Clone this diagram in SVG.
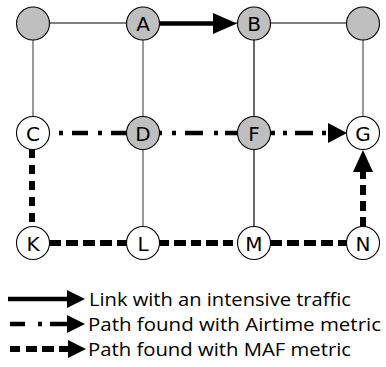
<svg xmlns="http://www.w3.org/2000/svg" width="386" height="367" viewBox="0 0 386 367">
<style>
.thin{stroke:#555;stroke-width:1.2;fill:none}
.thinb{stroke:#000;stroke-width:1.2;fill:none}
.nd circle{stroke:#000;stroke-width:1.1}
.g{fill:#bfbfbf}
.w{fill:#fff}
.nd text{font-family:"DejaVu Sans",sans-serif;font-size:20px;text-anchor:middle;fill:#000}
.solid{stroke:#000;stroke-width:4.5;fill:none}
.dd{stroke:#000;stroke-width:4.5;fill:none}
.maf{stroke:#000;stroke-width:6;fill:none}
.ah{fill:#000}
.lg{font-family:"Open Sans",sans-serif;font-size:18.5px;fill:#000}
</style>
<rect width="386" height="367" fill="#fff"/>
<g id="edges">
<line class="thinb" x1="33" y1="23" x2="363" y2="23"/>
<line class="thin" x1="33" y1="23" x2="33" y2="133"/>
<line class="thin" x1="143" y1="23" x2="143" y2="243"/>
<line class="thinb" x1="254" y1="23" x2="254" y2="243"/>
<line class="thin" x1="363" y1="23" x2="363" y2="133" stroke="#888"/>
</g>
<g id="connectors">
<line class="solid" x1="159" y1="23.5" x2="215" y2="23.5"/>
<polygon class="ah" points="213,13 237,23.5 213,34"/>
<line class="dd" x1="59" y1="133" x2="127" y2="133" stroke-dasharray="4 9 16 10"/>
<line class="dd" x1="159" y1="133" x2="238" y2="133" stroke-dasharray="3 10 4 9 18 11 4 7 20"/>
<line class="dd" x1="270" y1="133" x2="330" y2="133" stroke-dasharray="5 8 4 8 18 9 4 4 10"/>
<polygon class="ah" points="328,123 347,133 328,143"/>
<line class="maf" x1="32" y1="149" x2="32" y2="227" stroke-dasharray="9 7"/>
<line class="maf" x1="49" y1="243" x2="127" y2="243" stroke-dasharray="12 5"/>
<line class="maf" x1="159" y1="243" x2="238" y2="243" stroke-dasharray="10 5 12 5"/>
<line class="maf" x1="270" y1="243" x2="347" y2="243" stroke-dasharray="12 5"/>
<line class="maf" x1="363" y1="227" x2="363" y2="170" stroke-dasharray="10 6"/>
<polygon class="ah" points="353,172 363,150 373,172"/>
</g>
<g id="n_tl" class="nd"><circle class="g" cx="33" cy="23.5" r="16.5"/></g>
<g id="n_A" class="nd"><circle class="g" cx="143" cy="23.5" r="16.5"/><text x="143" y="31">A</text></g>
<g id="n_B" class="nd"><circle class="g" cx="254" cy="23.5" r="16.5"/><text x="254" y="31">B</text></g>
<g id="n_tr" class="nd"><circle class="g" cx="363" cy="23.5" r="16.5"/></g>
<g id="n_C" class="nd"><circle class="w" cx="33" cy="133" r="16.5"/><text x="33" y="140.5">C</text></g>
<g id="n_D" class="nd"><circle class="g" cx="143" cy="133" r="16.5"/><text x="143" y="140.5">D</text></g>
<g id="n_F" class="nd"><circle class="g" cx="254" cy="133" r="16.5"/><text x="254" y="140.5">F</text></g>
<g id="n_G" class="nd"><circle class="w" cx="363" cy="133" r="16.5"/><text x="363" y="140.5">G</text></g>
<g id="n_K" class="nd"><circle class="w" cx="33" cy="243" r="16.5"/><text x="33" y="250.5">K</text></g>
<g id="n_L" class="nd"><circle class="w" cx="143" cy="243" r="16.5"/><text x="143" y="250.5">L</text></g>
<g id="n_M" class="nd"><circle class="w" cx="254" cy="243" r="16.5"/><text x="254" y="250.5">M</text></g>
<g id="n_N" class="nd"><circle class="w" cx="363" cy="243" r="16.5"/><text x="363" y="250.5">N</text></g>
<g id="legend">
<line class="solid" x1="8" y1="299" x2="69" y2="299" stroke-width="3.5"/>
<polygon class="ah" points="67,290 85,299 67,308"/>
<text class="lg" x="89" y="306" textLength="262" lengthAdjust="spacingAndGlyphs">Link with an intensive traffic</text>
<line class="dd" x1="10" y1="324" x2="69" y2="324" stroke-dasharray="15 13 4 8 20" stroke-width="4"/>
<polygon class="ah" points="67,315 85,324 67,333"/>
<text class="lg" x="88" y="331" textLength="293" lengthAdjust="spacingAndGlyphs">Path found with Airtime metric</text>
<line class="maf" x1="10" y1="349" x2="70" y2="349" stroke-dasharray="10 6 11 5 12 5 10"/>
<polygon class="ah" points="68,340 86,349 68,358"/>
<text class="lg" x="88" y="356" textLength="263" lengthAdjust="spacingAndGlyphs">Path found with MAF metric</text>
</g>
</svg>
